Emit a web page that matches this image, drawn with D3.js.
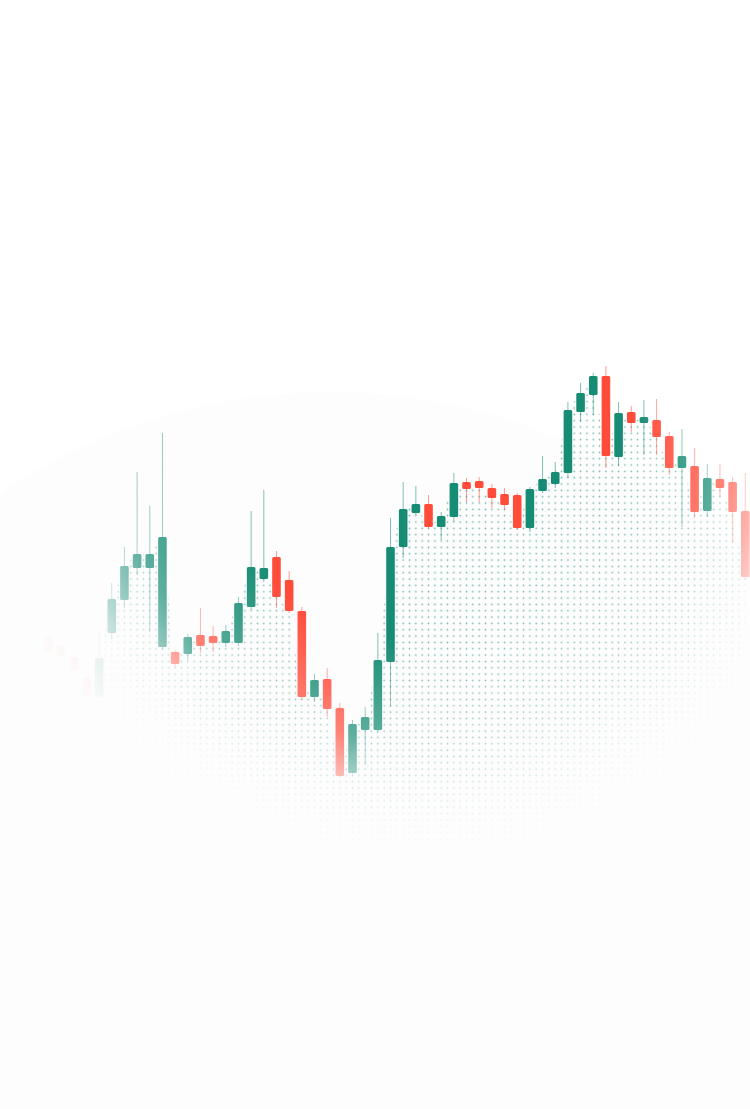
<!DOCTYPE html>
<html>
<head>
<meta charset="utf-8">
<script src="https://cdn.jsdelivr.net/npm/d3@7/dist/d3.min.js"></script>
<style>
  html, body { margin: 0; padding: 0; background: #ffffff; }
  svg { display: block; }
</style>
</head>
<body>
<div id="chart"></div>
<script>
// ---- data (price units) ----
const categories = [1,2,3,4,5,6,7,8,9,10,11,12,13,14,15,16,17,18,19,20,21,22,23,24,25,26,27,28,
                    29,30,31,32,33,34,35,36,37,38,39,40,41,42,43,44,45,46,47,48,49,50,51,52,53,54,55,56];
const opens  = [213,205,193,172,153,217,250,282,282,203,198,196,215,214,207,207,243,271,293,270,239,153,171,142,77,120,120,188,
                303,337,346,323,333,368,369,362,356,355,322,359,366,377,438,455,474,393,438,427,430,414,382,384,339,371,368,339];
const highs  = [217,210,200,178,217,267,303,378,344,417,200,216,242,224,225,253,339,360,299,279,243,176,182,147,130,143,217,332,
                368,364,355,338,377,372,373,366,362,357,363,394,388,448,467,477,484,448,444,450,451,418,421,402,386,386,373,377];
const lows   = [193,190,175,150,150,210,242,275,218,200,183,190,197,198,203,204,240,268,242,237,150,148,133,73,76,85,117,143,
                292,335,322,310,328,348,348,342,340,320,318,357,362,372,428,435,382,384,418,395,395,375,323,332,333,353,307,270];
const closes = [197,194,180,155,192,251,284,296,296,313,186,213,204,207,219,247,283,282,253,239,153,170,141,74,126,133,190,303,
                341,346,323,334,367,361,362,352,345,322,361,371,378,440,457,474,394,437,427,433,413,382,394,338,372,362,338,273];

const upColor = "#178c74";
const downColor = "#ff4b3a";

const W = 750, H = 1109;
const svg = d3.select("#chart").append("svg").attr("width", W).attr("height", H);
const defs = svg.append("defs");

const x = d3.scalePoint().domain(categories).range([48.4, 745.3]);
const y = d3.scaleLinear().domain([0, 500]).range([850, 350]);
const step = x.step();
const bodyW = 8.6;

// very faint background tint
svg.append("circle").attr("cx", 330).attr("cy", 980).attr("r", 588)
   .attr("fill", "#f9f3f7").attr("opacity", 0.18);

// fade mask (elliptical)
const rg = defs.append("radialGradient").attr("id", "fadeGrad")
  .attr("cx", 0.5).attr("cy", 0.5).attr("r", 0.5);
[[0,1],[0.5,1],[0.73,0.7],[0.86,0.28],[0.93,0.1],[1,0.025]].forEach(([o,a]) =>
  rg.append("stop").attr("offset", o).attr("stop-color", "#fff").attr("stop-opacity", a));
const mask = defs.append("mask").attr("id", "fade")
  .attr("maskUnits", "userSpaceOnUse").attr("x", 0).attr("y", 0).attr("width", W).attr("height", H);
mask.append("rect").attr("x", 0).attr("y", -20).attr("width", 840).attr("height", 880)
  .attr("fill", "url(#fadeGrad)");

// dot pattern
const pw = step / 2;
const pat = defs.append("pattern").attr("id", "dots").attr("patternUnits", "userSpaceOnUse")
  .attr("x", x(categories[0]) - pw / 2).attr("y", 427 - pw / 2)
  .attr("width", pw).attr("height", pw);
pat.append("circle").attr("cx", pw / 2).attr("cy", pw / 2).attr("r", 0.85)
  .attr("fill", "#3a9f8a").attr("opacity", 0.75);

const g = svg.append("g").attr("mask", "url(#fade)");

const data = categories.map((c, i) => ({c, o: opens[i], h: highs[i], l: lows[i], cl: closes[i]}));

const area = d3.area().x(d => x(d.c)).y0(900).y1(d => y(d.cl));
g.append("path").datum(data).attr("d", area).attr("fill", "url(#dots)");

const candles = g.selectAll("g.candle").data(data).join("g").attr("class", "candle");
candles.append("line")
  .attr("x1", d => x(d.c)).attr("x2", d => x(d.c))
  .attr("y1", d => y(d.h)).attr("y2", d => y(d.l))
  .attr("stroke", d => d.cl >= d.o ? upColor : downColor)
  .attr("stroke-opacity", 0.55).attr("stroke-width", 1);
candles.append("rect")
  .attr("x", d => x(d.c) - bodyW / 2).attr("width", bodyW)
  .attr("y", d => y(Math.max(d.o, d.cl)))
  .attr("height", d => Math.max(1, Math.abs(y(d.o) - y(d.cl))))
  .attr("rx", 1.5)
  .attr("fill", d => d.cl >= d.o ? upColor : downColor);
</script>
</body>
</html>
